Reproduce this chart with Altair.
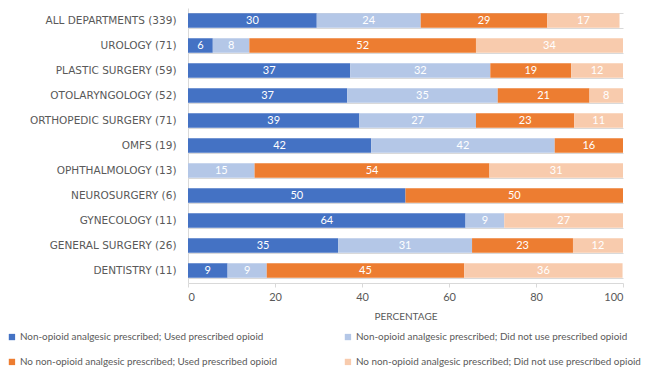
import altair as alt
import pandas as pd

departments = [
    "ALL DEPARTMENTS (339)", "UROLOGY (71)", "PLASTIC SURGERY (59)",
    "OTOLARYNGOLOGY (52)", "ORTHOPEDIC SURGERY (71)", "OMFS (19)",
    "OPHTHALMOLOGY (13)", "NEUROSURGERY (6)", "GYNECOLOGY (11)",
    "GENERAL SURGERY (26)", "DENTISTRY (11)",
]
categories = [
    "Non-opioid analgesic prescribed; Used prescribed opioid",
    "Non-opioid analgesic prescribed; Did not use prescribed opioid",
    "No non-opioid analgesic prescribed; Used prescribed opioid",
    "No non-opioid analgesic prescribed; Did not use prescribed opioid",
]
colors = ["#4472C4", "#B4C7E7", "#ED7D31", "#F8CBAD"]

s1 = [29.6, 5.7, 37.3, 36.6, 39.4, 42.1, 0.0, 50.0, 63.8, 34.5, 9.1]
s2 = [23.9, 8.4, 32.2, 34.6, 26.8, 42.2, 15.3, 0.0, 8.9, 30.8, 9.0]
s3 = [29.1, 52.1, 18.6, 21.1, 22.6, 15.7, 54.0, 50.0, 0.0, 23.2, 45.4]
s4 = [16.6, 33.8, 11.9, 7.7, 11.2, 0.0, 30.7, 0.0, 27.3, 11.5, 36.4]

rows = []
for i, d in enumerate(departments):
    for k, series in enumerate([s1, s2, s3, s4]):
        rows.append({"dept": d, "cat": categories[k], "order": k, "value": series[i]})
df = pd.DataFrame(rows)

GRAY = "#595959"
LINE = "#D9D9D9"

base = alt.Chart(df).transform_filter(
    alt.datum.value > 0
).transform_stack(
    stack="value", groupby=["dept"], as_=["x0", "x1"],
    sort=[alt.SortField("order", order="ascending")],
).transform_calculate(mid="(datum.x0 + datum.x1) / 2")

y_enc = alt.Y(
    "dept:N", sort=departments, title=None,
    scale=alt.Scale(paddingInner=0.42, paddingOuter=0.21),
    axis=alt.Axis(
        labelFont="DejaVu Sans", labelFontSize=10.5, labelColor=GRAY,
        labelPadding=12, ticks=False, domain=True, domainColor=LINE,
        grid=True, gridColor=LINE, tickBand="extent",
    ),
)

bars = base.mark_bar().encode(
    x=alt.X(
        "x0:Q", title="PERCENTAGE",
        scale=alt.Scale(domain=[0, 100], nice=False),
        axis=alt.Axis(
            values=[0, 20, 40, 60, 80, 100], grid=False,
            domainColor=LINE, tickColor=LINE, tickSize=4,
            labelFont="Lato", labelFontSize=11, labelColor=GRAY, labelPadding=4,
            titleFont="Lato", titleFontSize=10, titleFontWeight="normal",
            titleColor=GRAY, titlePadding=9,
        ),
    ),
    x2="x1:Q",
    y=y_enc,
    color=alt.Color(
        "cat:N",
        scale=alt.Scale(domain=categories, range=colors),
        legend=alt.Legend(
            title=None, orient="none", legendX=-181, legendY=324,
            direction="horizontal",
            columns=2, columnPadding=66, rowPadding=14,
            symbolType="square", symbolSize=40, symbolStrokeWidth=0,
            labelFont="Lato", labelFontSize=9.9, labelColor=GRAY,
            labelLimit=400, labelOffset=3,
        ),
    ),
    order=alt.Order("order:Q"),
)

labels = base.mark_text(color="white", font="Lato", fontSize=11).encode(
    x=alt.X("mid:Q"),
    y=alt.Y("dept:N", sort=departments),
    text=alt.Text("value:Q", format=".0f"),
)

chart = alt.layer(bars, labels).properties(
    width=435, height=275,
    autosize=alt.AutoSizeParams(type="none"),
    padding={"left": 180, "top": 0, "right": 19, "bottom": 86},
).configure_view(stroke=None)

chart.save("out.html", embed_options={"renderer": "svg", "actions": False})
